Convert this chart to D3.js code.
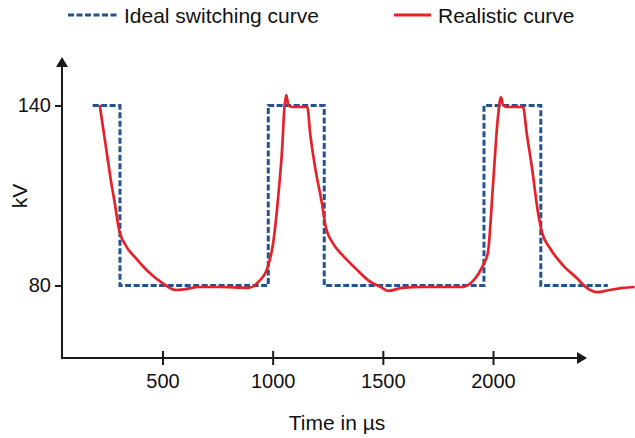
<!DOCTYPE html>
<html>
<head>
<meta charset="utf-8">
<script src="https://cdn.jsdelivr.net/npm/d3@7"></script>
<style>
  body { margin: 0; background: #fff; }
  svg { display: block; font-family: "Liberation Sans", Arial, sans-serif; }
</style>
</head>
<body>
<script>
'use strict';

// ideal switching curve: switching instants (µs) and level held after each
const idealTime = [183, 307, 980, 1234, 1959, 2217, 2521];
const idealKV   = [140,  80, 140,   80,  140,   80,   80];

// realistic curve
const realTime = [215, 242, 264, 287, 301, 332, 378, 437, 500, 559, 604, 663, 754, 890, 935, 976,
                  1003, 1026, 1044, 1052, 1062, 1071, 1089, 1157, 1171, 1193, 1225, 1239, 1270, 1316,
                  1375, 1433, 1497, 1524, 1587, 1678, 1769, 1859, 1905, 1955, 1977, 2000, 2022, 2036,
                  2045, 2063, 2136, 2154, 2177, 2204, 2222, 2258, 2317, 2380, 2426, 2471, 2530, 2589, 2643];
const realKV   = [140.2, 126.8, 115.8, 105.8, 99.2, 93.5, 89.2, 84.5, 80.8, 78.5, 78.8, 79.5, 79.5, 79.2, 81.2, 85.8,
                  94.5, 110.2, 126.8, 138, 143.5, 140.2, 139.5, 139.5, 130.2, 119.2, 106.8, 100.2, 94.5, 90.2,
                  85.8, 81.8, 79.2, 78.2, 79.2, 79.5, 79.5, 79.5, 81.2, 86.8, 91, 113.5, 135.8, 142.8,
                  140.2, 139.5, 139.5, 130.2, 119.2, 104.5, 97.8, 92.5, 86.8, 82.5, 79.2, 77.8, 78.5, 79.2, 79.5];

const xTicks = [500, 1000, 1500, 2000];
const yTicks = [80, 140];

const width = 635, height = 438;
const axisX = 62, axisY = 358, yTop = 57, xRight = 587;

const svg = d3.select("body").append("svg")
  .attr("width", width)
  .attr("height", height);

const x = d3.scaleLinear().domain([500, 2000]).range([162.5, 493]);
const y = d3.scaleLinear().domain([80, 140]).range([285.5, 105.5]);

// axes
const xAxis = svg.append("g")
  .attr("transform", `translate(0,${axisY})`)
  .call(d3.axisBottom(x).tickValues(xTicks).tickSize(7).tickPadding(9).tickFormat(d3.format("d")));
xAxis.select(".domain").remove();
xAxis.selectAll(".tick line").attr("y1", -7).attr("stroke", "#1a1a1a").attr("stroke-width", 2);
xAxis.selectAll(".tick text").attr("font-size", 20).attr("fill", "#111").attr("font-family", null);

const yAxis = svg.append("g")
  .attr("transform", `translate(${axisX},0)`)
  .call(d3.axisLeft(y).tickValues(yTicks).tickSize(7).tickPadding(4));
yAxis.select(".domain").remove();
yAxis.selectAll(".tick line").attr("stroke", "#1a1a1a").attr("stroke-width", 2);
yAxis.selectAll(".tick text").attr("font-size", 20).attr("fill", "#111").attr("font-family", null);

svg.append("path")
  .attr("d", `M${axisX},${yTop + 8}V${axisY}H${xRight - 9}`)
  .attr("fill", "none")
  .attr("stroke", "#1a1a1a")
  .attr("stroke-width", 2);
svg.append("path")
  .attr("d", `M${axisX},${yTop}l-6,10h12z`)
  .attr("fill", "#1a1a1a");
svg.append("path")
  .attr("d", `M${xRight},${axisY}l-10,-6v12z`)
  .attr("fill", "#1a1a1a");

// curves
const idealLine = d3.line()
  .x((d, i) => x(idealTime[i]))
  .y(d => y(d))
  .curve(d3.curveStepAfter);

svg.append("path")
  .attr("d", idealLine(idealKV))
  .attr("fill", "none")
  .attr("stroke", "#22528f")
  .attr("stroke-width", 3)
  .attr("stroke-dasharray", "6,2.5");

const realLine = d3.line()
  .x((d, i) => x(realTime[i]))
  .y(d => y(d))
  .curve(d3.curveMonotoneX);

svg.append("path")
  .attr("d", realLine(realKV))
  .attr("fill", "none")
  .attr("stroke", "#e5222a")
  .attr("stroke-width", 2.7)
  .attr("stroke-linejoin", "round");

// axis titles
svg.append("text")
  .attr("x", 337).attr("y", 430)
  .attr("text-anchor", "middle")
  .attr("font-size", 21).attr("fill", "#111")
  .text("Time in µs");

svg.append("text")
  .attr("transform", "translate(27,196) rotate(-90)")
  .attr("text-anchor", "middle")
  .attr("font-size", 21).attr("fill", "#111")
  .text("kV");

// legend
const legend = svg.append("g");
legend.append("line")
  .attr("x1", 68).attr("x2", 117).attr("y1", 15).attr("y2", 15)
  .attr("stroke", "#22528f").attr("stroke-width", 3).attr("stroke-dasharray", "6,2.5");
legend.append("text")
  .attr("x", 124).attr("y", 22.5)
  .attr("font-size", 21).attr("fill", "#111")
  .text("Ideal switching curve");
legend.append("line")
  .attr("x1", 394).attr("x2", 431).attr("y1", 15).attr("y2", 15)
  .attr("stroke", "#e5222a").attr("stroke-width", 3);
legend.append("text")
  .attr("x", 438).attr("y", 22.5)
  .attr("font-size", 21).attr("fill", "#111")
  .text("Realistic curve");
</script>
</body>
</html>
